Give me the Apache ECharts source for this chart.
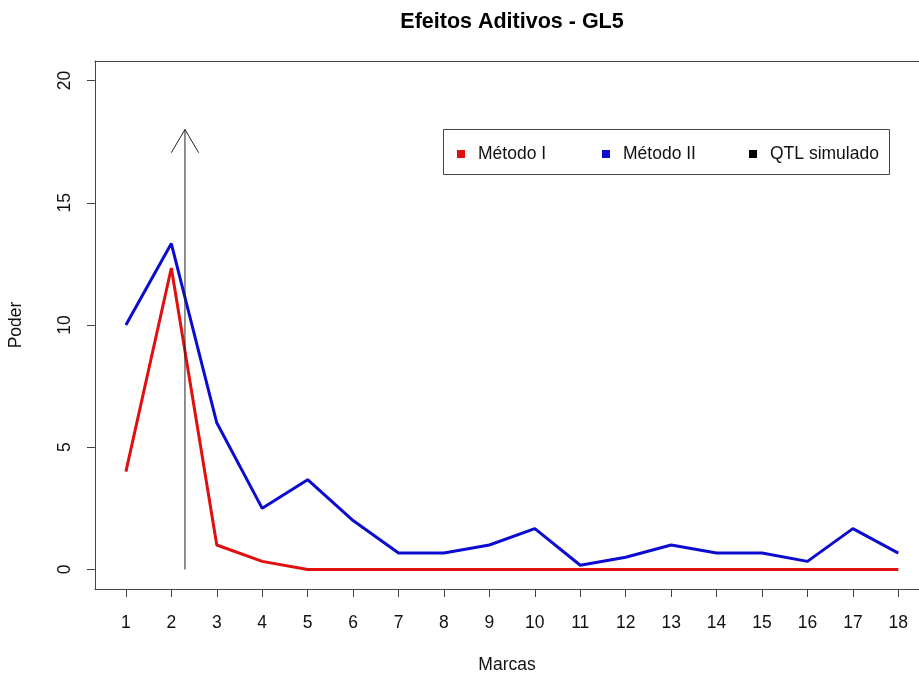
<!DOCTYPE html>
<html>
<head>
<meta charset="utf-8">
<script src="https://cdn.jsdelivr.net/npm/echarts@6/dist/echarts.min.js"></script>
<style>html,body{margin:0;padding:0;background:#fff}#c{width:919px;height:676px}</style>
</head>
<body>
<div id="c"></div>
<script>
// ---- data ----
const titleText = 'Efeitos Aditivos - GL5';
const xName = 'Marcas';
const yName = 'Poder';
const marcas = [1, 2, 3, 4, 5, 6, 7, 8, 9, 10, 11, 12, 13, 14, 15, 16, 17, 18];
const metodoI = [4, 12.33, 1, 0.33, 0, 0, 0, 0, 0, 0, 0, 0, 0, 0, 0, 0, 0, 0];
const metodoII = [10, 13.33, 6, 2.5, 3.67, 2, 0.67, 0.67, 1, 1.67, 0.17, 0.5, 1, 0.67, 0.67, 0.33, 1.67, 0.67];
const yTicks = [0, 5, 10, 15, 20];
const qtlPos = 2.3;       // simulated QTL position (marker scale)
const qtlArrowTop = 18;   // arrow height
const seriesNames = ['Método I', 'Método II', 'QTL simulado'];

// ---- chart ----
const font = '"Liberation Sans", Arial, Helvetica, sans-serif';
const chart = echarts.init(document.getElementById('c'), null, {renderer: 'canvas'});
const pairs = (ys) => marcas.map((m, i) => [m, ys[i]]);
const xMin = 0.32, xMax = 18.455;
const yMin = -0.8, yMax = 20.8;
const headDx = 0.3, headDy = 0.95;
const axisColor = '#444';
const fs = 17.5;

const legendCommon = {
  orient: 'horizontal', icon: 'rect', itemWidth: 8, itemHeight: 8,
  selectedMode: false,
  textStyle: {fontFamily: font, fontSize: fs, color: '#111', padding: [0, 0, 0, 8]}
};

chart.setOption({
  animation: false,
  backgroundColor: '#fff',
  title: {
    text: titleText, left: 507, top: 6, textAlign: 'center',
    textStyle: {fontFamily: font, fontSize: 21.5, fontWeight: 'bold', color: '#000'}
  },
  legend: [
    Object.assign({data: [seriesNames[0]], left: 452, top: 140}, legendCommon),
    Object.assign({data: [seriesNames[1]], left: 597, top: 140}, legendCommon),
    Object.assign({data: [seriesNames[2]], left: 744, top: 140}, legendCommon)
  ],
  graphic: [{
    type: 'rect', shape: {x: 443.5, y: 129.5, width: 446, height: 45},
    style: {fill: 'none', stroke: axisColor, lineWidth: 1}, z: 1
  }],
  grid: {left: 95, right: 0, top: 61, bottom: 87, show: false, containLabel: false, outerBoundsMode: 'none'},
  xAxis: [{
    type: 'value', min: xMin, max: xMax, position: 'bottom',
    name: xName, nameLocation: 'middle', nameGap: 67,
    nameTextStyle: {fontFamily: font, fontSize: fs, color: '#111'},
    axisLine: {show: true, onZero: false, lineStyle: {color: axisColor, width: 1}},
    splitLine: {show: false},
    axisTick: {show: true, length: 8, customValues: marcas, lineStyle: {color: axisColor}},
    axisLabel: {customValues: marcas, margin: 25, fontFamily: font, fontSize: fs, color: '#111'}
  }, {
    type: 'value', min: xMin, max: xMax, position: 'top',
    axisLine: {show: true, onZero: false, lineStyle: {color: axisColor, width: 1}},
    axisTick: {show: false}, axisLabel: {show: false}, splitLine: {show: false}
  }],
  yAxis: {
    type: 'value', min: yMin, max: yMax,
    name: yName, nameLocation: 'middle', nameGap: 70,
    nameTextStyle: {fontFamily: font, fontSize: fs, color: '#111'},
    axisLine: {show: true, onZero: false, lineStyle: {color: axisColor, width: 1}},
    splitLine: {show: false},
    axisTick: {show: true, length: 8, customValues: yTicks, lineStyle: {color: axisColor}},
    axisLabel: {customValues: yTicks, rotate: 90, margin: 21, fontFamily: font, fontSize: fs, color: '#111'}
  },
  series: [
    {
      name: seriesNames[0], type: 'line', data: pairs(metodoI), showSymbol: false,
      lineStyle: {color: '#e01010', width: 3}, itemStyle: {color: '#e01010'}, z: 3
    },
    {
      name: seriesNames[1], type: 'line', data: pairs(metodoII), showSymbol: false,
      lineStyle: {color: '#0c0cd0', width: 3}, itemStyle: {color: '#0c0cd0'}, z: 4
    },
    {
      name: seriesNames[2], type: 'line', data: [[qtlPos, 0], [qtlPos, qtlArrowTop]], showSymbol: false,
      lineStyle: {color: '#222', width: 1}, itemStyle: {color: '#000'}, z: 5
    },
    {
      name: 'arrowhead', type: 'line', showSymbol: false,
      data: [[qtlPos - headDx, qtlArrowTop - headDy], [qtlPos, qtlArrowTop], [qtlPos + headDx, qtlArrowTop - headDy]],
      lineStyle: {color: '#222', width: 1}, z: 5
    }
  ]
});
</script>
</body>
</html>
